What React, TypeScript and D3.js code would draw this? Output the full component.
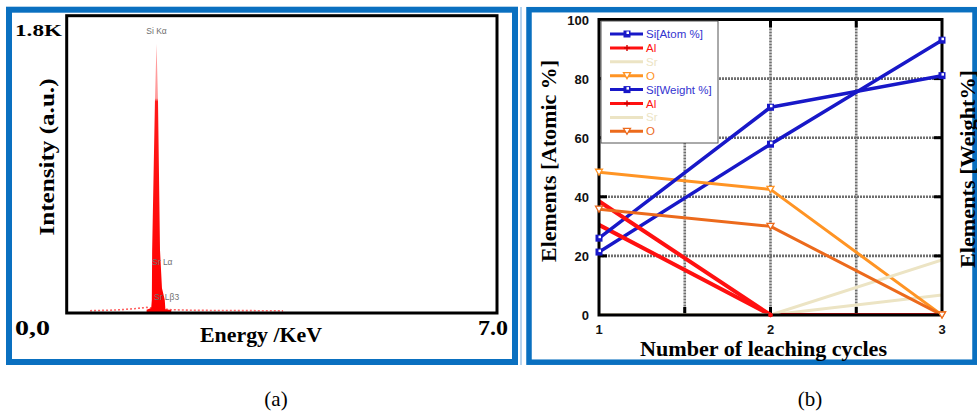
import React from "react";
import * as d3 from "d3";

// ---------- Panel (a): EDX spectrum ----------
const peakEnergy = [1.3, 1.375, 1.385, 1.39, 1.436, 1.461, 1.485, 1.518, 1.55, 1.595, 1.605, 1.7];
const peakCounts = [20, 30, 80, 380, 1290, 1630, 1290, 380, 150, 80, 22, 18];
const noiseEnergy = [0.38, 0.8, 1.1, 1.3, 1.7, 2.1, 2.6, 3.1, 3.52];
const noiseCounts = [14, 18, 26, 34, 20, 16, 15, 14, 13];
const peakLabels = ["Si K\u03b1", "Sr L\u03b1", "Sr L\u03b23"];
const peakLabelEnergy = [1.461, 1.388, 1.42];
const peakLabelCounts = [1690, 290, 80];

// ---------- Panel (b): leaching cycles ----------
const cycles = [1, 2, 3];
const siAtom = [21.3, 57.8, 93.0];
const alAtom = [30.5, 0, 0];
const srAtom = [0, 0, 6.8];
const oAtom = [48.3, 42.5, 0];
const siWeight = [26.0, 70.3, 81.0];
const alWeight = [38.5, 0, 0];
const srWeight = [0, 0, 18.6];
const oWeight = [35.8, 30.0, 0];
const seriesNames = ["Si[Atom %]", "Al", "Sr", "O", "Si[Weight %]", "Al", "Sr", "O"];
const yTicks = [0, 20, 40, 60, 80, 100];
const xTicks = [1, 2, 3];

const BLUE = "#1818c8";
const RED = "#ff1010";
const BEIGE = "#ece4c4";
const ORANGE1 = "#ff9424";
const ORANGE2 = "#ec6a1c";
const BORDER = "#0a70c0";
const SERIF = "'Liberation Serif', 'Times New Roman', serif";
const SANS = "'Liberation Sans', Arial, sans-serif";

type Series = { name: string; values: number[]; color: string; textColor: string; marker: string; width: number };

const series: Series[] = [
  { name: seriesNames[0], values: siAtom, color: BLUE, textColor: "#3434d0", marker: "square", width: 3.5 },
  { name: seriesNames[1], values: alAtom, color: RED, textColor: RED, marker: "plus", width: 4 },
  { name: seriesNames[2], values: srAtom, color: BEIGE, textColor: BEIGE, marker: "none", width: 3 },
  { name: seriesNames[3], values: oAtom, color: ORANGE1, textColor: ORANGE1, marker: "tri", width: 3 },
  { name: seriesNames[4], values: siWeight, color: BLUE, textColor: "#3434d0", marker: "square", width: 3.5 },
  { name: seriesNames[5], values: alWeight, color: RED, textColor: RED, marker: "plus", width: 4 },
  { name: seriesNames[6], values: srWeight, color: BEIGE, textColor: BEIGE, marker: "none", width: 3 },
  { name: seriesNames[7], values: oWeight, color: ORANGE2, textColor: ORANGE2, marker: "tri", width: 3 },
];

function Marker({ type, x, y, color }: { type: string; x: number; y: number; color: string }) {
  if (type === "square")
    return (
      <g>
        <rect x={x - 3.5} y={y - 3.5} width={7} height={7} fill={color} />
        <rect x={x - 0.5} y={y - 2.5} width={2.5} height={2.5} fill="#fff" />
      </g>
    );
  if (type === "tri")
    return <path d={`M${x - 3.5},${y - 3}L${x + 3.5},${y - 3}L${x},${y + 3}Z`} fill="#fff" stroke={color} strokeWidth={1.3} />;
  if (type === "plus") return <circle cx={x} cy={y} r={2.2} fill={color} />;
  return null;
}

export default function App() {
  // Panel (a) scales
  const ax = d3.scaleLinear().domain([0, 7]).range([66.7, 497]);
  const ay = d3.scaleLinear().domain([0, 1800]).range([313, 15.7]);
  const peakPts = peakEnergy.map((e, i) => [e, peakCounts[i]] as [number, number]);
  const area = d3
    .area<[number, number]>()
    .x((d) => ax(d[0]))
    .y0(ay(0))
    .y1((d) => ay(d[1]))(peakPts) as string;
  const noisePts = noiseEnergy.map((e, i) => [e, noiseCounts[i]] as [number, number]);
  const noiseLine = d3
    .line<[number, number]>()
    .x((d) => ax(d[0]))
    .y((d) => ay(d[1]))(noisePts) as string;

  // Panel (b) scales
  const bx = d3.scaleLinear().domain([1, 3]).range([599, 942]);
  const by = d3.scaleLinear().domain([0, 100]).range([315, 19.5]);
  const line = d3
    .line<[number, number]>()
    .x((d) => bx(d[0]))
    .y((d) => by(d[1]));

  const gridX = [1.5, 2, 2.5];
  const gridY = [20, 40, 60, 80];

  return (
    <svg width={977} height={412} style={{ position: "absolute", left: 0, top: 0, background: "#fff" }}>
      <defs>
        <linearGradient id="peakGrad" gradientUnits="userSpaceOnUse" x1={0} y1={ay(1800)} x2={0} y2={ay(0)}>
          <stop offset={0} stopColor="#ff9c9c" />
          <stop offset={(ay(1300) - ay(1800)) / (ay(0) - ay(1800))} stopColor="#ff9c9c" />
          <stop offset={(ay(1280) - ay(1800)) / (ay(0) - ay(1800))} stopColor="#ff1a1a" />
          <stop offset={1} stopColor="#ff0000" />
        </linearGradient>
        <clipPath id="plotClip">
          <rect x={bx(1)} y={by(100)} width={bx(3) - bx(1)} height={by(0) - by(100)} />
        </clipPath>
      </defs>

      {/* ===== Panel (a) ===== */}
      <rect x={9} y={9.7} width={506} height={352.3} fill="none" stroke={BORDER} strokeWidth={6} />
      <line x1={521} x2={521} y1={7} y2={365} stroke="#b8d4ee" strokeWidth={2} />
      <path d={noiseLine} fill="none" stroke="#ff3030" strokeWidth={1.6} strokeDasharray="2 2" opacity={0.75} />
      <path d={area} fill="url(#peakGrad)" />
      {peakLabels.map((t, i) => (
        <text
          key={t}
          x={ax(peakLabelEnergy[i])}
          y={ay(peakLabelCounts[i])}
          fontFamily={SANS}
          fontSize={8.5}
          fill="#707070"
          textAnchor={i === 0 ? "middle" : "start"}
        >
          {t}
        </text>
      ))}
      <rect x={66.7} y={15.7} width={430.3} height={297.3} fill="none" stroke="#000" strokeWidth={3} />
      <text x={15} y={36} fontFamily={SERIF} fontWeight="bold" fontSize={17} textLength={47} lengthAdjust="spacingAndGlyphs">
        1.8K
      </text>
      <text
        transform="translate(54,157) rotate(-90)"
        textAnchor="middle"
        fontFamily={SERIF}
        fontWeight="bold"
        fontSize={20}
        textLength={157}
        lengthAdjust="spacingAndGlyphs"
      >
        Intensity (a.u.)
      </text>
      <text x={15} y={335} fontFamily={SERIF} fontWeight="bold" fontSize={21} textLength={35} lengthAdjust="spacingAndGlyphs">
        0,0
      </text>
      <text x={478} y={335} fontFamily={SERIF} fontWeight="bold" fontSize={21} textLength={30} lengthAdjust="spacingAndGlyphs">
        7.0
      </text>
      <text x={200} y={342} fontFamily={SERIF} fontWeight="bold" fontSize={21} textLength={122} lengthAdjust="spacingAndGlyphs">
        Energy /KeV
      </text>

      {/* ===== Panel (b) ===== */}
      <rect x={529} y={9.7} width={446} height={352.5} fill="none" stroke={BORDER} strokeWidth={5.5} />

      {/* grid */}
      {gridX.map((v) => (
        <g key={"gx" + v}>
          <line x1={bx(v)} x2={bx(v)} y1={by(100)} y2={by(0)} stroke="#6e6e6e" strokeWidth={2.6} strokeDasharray="2 1" />
          <line x1={bx(v)} x2={bx(v)} y1={by(100)} y2={by(100) + 8} stroke="#000" strokeWidth={3} />
          <line x1={bx(v)} x2={bx(v)} y1={by(0)} y2={by(0) - 8} stroke="#000" strokeWidth={3} />
        </g>
      ))}
      {gridY.map((v) => (
        <g key={"gy" + v}>
          <line x1={bx(1)} x2={bx(3)} y1={by(v)} y2={by(v)} stroke="#6e6e6e" strokeWidth={2.6} strokeDasharray="2 1" />
          <line x1={bx(1)} x2={bx(1) + 8} y1={by(v)} y2={by(v)} stroke="#000" strokeWidth={3} />
          <line x1={bx(3)} x2={bx(3) - 8} y1={by(v)} y2={by(v)} stroke="#000" strokeWidth={3} />
        </g>
      ))}

      {/* series lines */}
      <g clipPath="url(#plotClip)">
        {series.map((s, i) => (
          <path
            key={"l" + i}
            d={line(cycles.map((c, j) => [c, s.values[j]] as [number, number])) as string}
            fill="none"
            stroke={s.color}
            strokeWidth={s.width}
            strokeLinejoin="round"
          />
        ))}
      </g>
      <rect x={bx(1)} y={by(100)} width={bx(3) - bx(1)} height={by(0) - by(100)} fill="none" stroke="#000" strokeWidth={3} />
      {series.map((s, i) =>
        cycles.map((c, j) =>
          s.marker === "none" || (s.marker === "plus" && j !== 1) ? null : (
            <Marker key={"m" + i + "-" + j} type={s.marker} x={bx(c)} y={by(s.values[j])} color={s.color} />
          )
        )
      )}

      {/* legend */}
      <rect x={601} y={21} width={117} height={122} fill="#fff" stroke="#555" strokeWidth={1} />
      {series.map((s, i) => {
        const ly = 34 + i * 13.9;
        return (
          <g key={"lg" + i}>
            <line x1={610} x2={643} y1={ly} y2={ly} stroke={s.color} strokeWidth={3} />
            {s.marker === "plus" ? (
              <g stroke="#d00000" strokeWidth={1.4}>
                <line x1={624} x2={630} y1={ly} y2={ly} />
                <line x1={627} x2={627} y1={ly - 3} y2={ly + 3} />
              </g>
            ) : (
              <Marker type={s.marker} x={627} y={ly} color={s.color} />
            )}
            <text x={646} y={ly + 4} fontFamily={SANS} fontSize={11.5} fill={s.textColor}>
              {s.name}
            </text>
          </g>
        );
      })}

      {/* tick labels */}
      {yTicks.map((v) => (
        <text key={"yt" + v} x={589} y={by(v) + 5} textAnchor="end" fontFamily={SANS} fontWeight="bold" fontSize={13} fill="#111">
          {v}
        </text>
      ))}
      {xTicks.map((v) => (
        <text key={"xt" + v} x={bx(v)} y={334} textAnchor="middle" fontFamily={SANS} fontWeight="bold" fontSize={13} fill="#111">
          {v}
        </text>
      ))}

      {/* axis titles */}
      <text
        transform="translate(556,161) rotate(-90)"
        textAnchor="middle"
        fontFamily={SERIF}
        fontWeight="bold"
        fontSize={21}
        textLength={202}
        lengthAdjust="spacingAndGlyphs"
      >
        Elements [Atomic %]
      </text>
      <text
        transform="translate(975,169) rotate(-90)"
        textAnchor="middle"
        fontFamily={SERIF}
        fontWeight="bold"
        fontSize={21}
        textLength={198}
        lengthAdjust="spacingAndGlyphs"
      >
        Elements [Weight%]
      </text>
      <text x={640} y={356} fontFamily={SERIF} fontWeight="bold" fontSize={21.5} textLength={247} lengthAdjust="spacingAndGlyphs">
        Number of leaching cycles
      </text>

      {/* captions */}
      <text x={276} y={406} textAnchor="middle" fontFamily={SERIF} fontSize={21}>
        (a)
      </text>
      <text x={810} y={406} textAnchor="middle" fontFamily={SERIF} fontSize={21}>
        (b)
      </text>
    </svg>
  );
}
